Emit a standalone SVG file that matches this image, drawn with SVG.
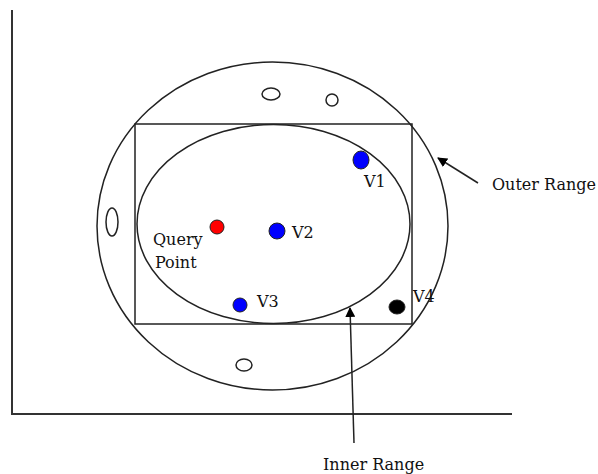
<svg xmlns="http://www.w3.org/2000/svg" width="598" height="474" viewBox="0 0 598 474">
<defs>
<marker id="ah" markerWidth="10" markerHeight="10" refX="9" refY="5" orient="auto" markerUnits="userSpaceOnUse">
<path d="M0,0 L10,5 L0,10 z" fill="#000"/>
</marker>
</defs>
<style>
.ln{fill:none;stroke:#222;stroke-width:1.5}
.ax{fill:none;stroke:#333;stroke-width:2}
.t{font-family:"DejaVu Serif",serif;font-size:16px;fill:#111}
.dot{stroke:#222;stroke-width:1}
</style>
<rect width="598" height="474" fill="#fff"/>
<g id="axes">
<line class="ax" x1="12" y1="10" x2="12" y2="414"/>
<line class="ax" x1="11" y1="414" x2="512" y2="414"/>
</g>
<g id="outer-range"><ellipse class="ln" cx="272.5" cy="226" rx="175.5" ry="164"/></g>
<g id="box"><rect class="ln" x="135" y="124" width="277" height="200"/></g>
<g id="inner-range"><ellipse class="ln" cx="273.5" cy="224" rx="136.5" ry="99.5"/></g>
<g id="others">
<ellipse class="ln" cx="271" cy="94" rx="9" ry="6"/>
<ellipse class="ln" cx="332" cy="100" rx="6" ry="6"/>
<ellipse class="ln" cx="112" cy="222" rx="6" ry="14"/>
<ellipse class="ln" cx="244" cy="365" rx="8" ry="6"/>
</g>
<g id="query-point">
<circle class="dot" cx="217" cy="227" r="7" fill="#f00"/>
<text class="t" x="153" y="245">Query</text>
<text class="t" x="155" y="268">Point</text>
</g>
<g id="v1"><ellipse class="dot" cx="361" cy="160" rx="8" ry="9" fill="#00f"/><text class="t" x="364" y="187">V1</text></g>
<g id="v2"><circle class="dot" cx="277" cy="231" r="8" fill="#00f"/><text class="t" x="292" y="238">V2</text></g>
<g id="v3"><circle class="dot" cx="240" cy="305" r="7" fill="#00f"/><text class="t" x="257" y="307">V3</text></g>
<g id="v4"><ellipse class="dot" cx="397" cy="307" rx="8" ry="7" fill="#000"/><text class="t" x="413" y="302">V4</text></g>
<g id="connectors">
<line class="ln" x1="478" y1="183" x2="438" y2="158" marker-end="url(#ah)"/>
<line class="ln" x1="354" y1="443" x2="350" y2="308" marker-end="url(#ah)"/>
</g>
<g id="labels">
<text class="t" x="492" y="190">Outer Range</text>
<text class="t" x="323" y="470">Inner Range</text>
</g>
</svg>
